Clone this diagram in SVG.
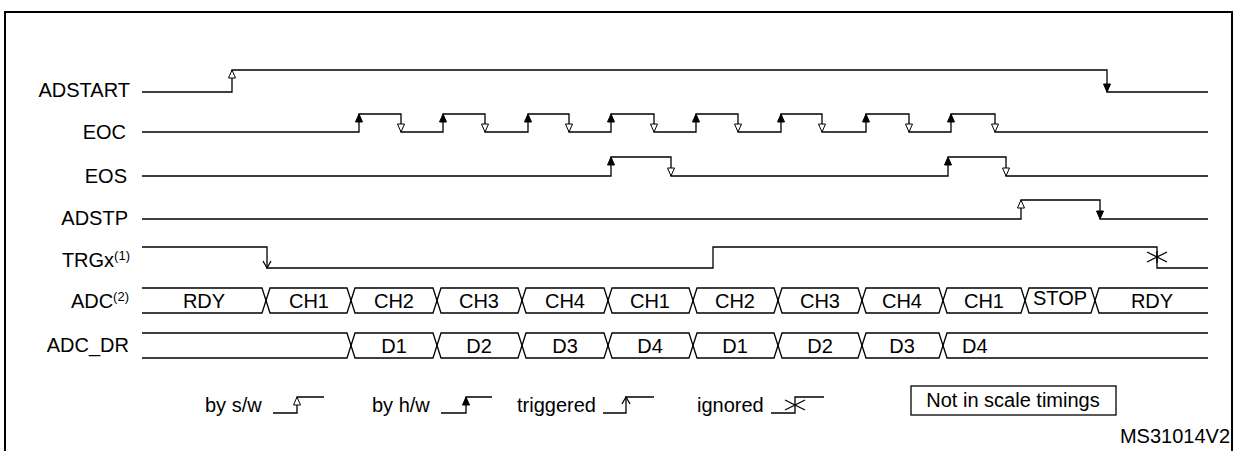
<svg xmlns="http://www.w3.org/2000/svg" width="1237" height="451" viewBox="0 0 1237 451">
<style>
.sig{fill:none;stroke:#000;stroke-width:1.3}
.t{font-family:"Liberation Sans",Arial,sans-serif;font-size:20px;fill:#000}
.l{text-anchor:end}
.c{text-anchor:middle}
.ho{fill:#fff;stroke:#000;stroke-width:1}
.fi{fill:#000;stroke:#000;stroke-width:1}
</style>
<rect width="1237" height="451" fill="#fff"/>
<path d="M5 460 V12 H1232 V460" fill="none" stroke="#000" stroke-width="2"/>
<g id="labels">
<text class="t l" x="130" y="97">ADSTART</text>
<text class="t l" x="126" y="139">EOC</text>
<text class="t l" x="127" y="183">EOS</text>
<text class="t l" x="128" y="225">ADSTP</text>
<text class="t l" x="130" y="267">TRGx<tspan font-size="13" dy="-7">(1)</tspan></text>
<text class="t l" x="129" y="308">ADC<tspan font-size="13" dy="-7">(2)</tspan></text>
<text class="t l" x="129" y="352">ADC_DR</text>
</g>
<g id="connectors">
<path class="sig" d="M142 92 H232 V70 H1107 V92 H1208"/>
<path class="sig" d="M142 132 H359 V114 H401 V132 H443 V114 H485 V132 H528 V114 H569 V132 H611 V114 H654 V132 H696 V114 H738 V132 H781 V114 H822 V132 H866 V114 H909 V132 H951 V114 H995 V132 H1208"/>
<path class="sig" d="M142 176 H611 V157 H671 V176 H948 V157 H1006 V176 H1208"/>
<path class="sig" d="M142 219 H1021 V200 H1100 V219 H1208"/>
<path class="sig" d="M142 247 H267 V268 H713 V247 H1157 V268 H1208"/>
<path class="sig" d="M263 261 L267 268 L271 261"/>
<path class="sig" d="M1147 252 L1167 262 M1147 262 L1167 252 M1157 251 V263"/>
<path class="ho" d="M232 70 l-3.5 8 h7 z"/>
<path class="fi" d="M1107 92 l-3.5 -8 h7 z"/>
<path class="fi" d="M359 114 l-3.5 8 h7 z M443 114 l-3.5 8 h7 z M528 114 l-3.5 8 h7 z M611 114 l-3.5 8 h7 z M696 114 l-3.5 8 h7 z M781 114 l-3.5 8 h7 z M866 114 l-3.5 8 h7 z M951 114 l-3.5 8 h7 z"/>
<path class="ho" d="M401 132 l-3.5 -8 h7 z M485 132 l-3.5 -8 h7 z M569 132 l-3.5 -8 h7 z M654 132 l-3.5 -8 h7 z M738 132 l-3.5 -8 h7 z M822 132 l-3.5 -8 h7 z M909 132 l-3.5 -8 h7 z M995 132 l-3.5 -8 h7 z"/>
<path class="fi" d="M611 157 l-3.5 8 h7 z M948 157 l-3.5 8 h7 z"/>
<path class="ho" d="M671 176 l-3.5 -8 h7 z M1006 176 l-3.5 -8 h7 z"/>
<path class="ho" d="M1021 200 l-3.5 8 h7 z"/>
<path class="fi" d="M1100 219 l-3.5 -8 h7 z"/>
<path class="sig" d="M142 288 H262 L266 300.5 L262 313 H142"/>
<path class="sig" d="M266 300.5 L270 288 H347 L351 300.5 L347 313 H270 Z"/>
<path class="sig" d="M351 300.5 L355 288 H433 L437 300.5 L433 313 H355 Z"/>
<path class="sig" d="M437 300.5 L441 288 H518 L522 300.5 L518 313 H441 Z"/>
<path class="sig" d="M522 300.5 L526 288 H604 L608 300.5 L604 313 H526 Z"/>
<path class="sig" d="M608 300.5 L612 288 H689 L693 300.5 L689 313 H612 Z"/>
<path class="sig" d="M693 300.5 L697 288 H774 L778 300.5 L774 313 H697 Z"/>
<path class="sig" d="M778 300.5 L782 288 H858 L862 300.5 L858 313 H782 Z"/>
<path class="sig" d="M862 300.5 L866 288 H939 L943 300.5 L939 313 H866 Z"/>
<path class="sig" d="M943 300.5 L947 288 H1021 L1025 300.5 L1021 313 H947 Z"/>
<path class="sig" d="M1025 300.5 L1029 288 H1091 L1095 300.5 L1091 313 H1029 Z"/>
<path class="sig" d="M1208 288 H1099 L1095 300.5 L1099 313 H1208"/>
<path class="sig" d="M142 333 H347 L351 345.5 L347 358 H142"/>
<path class="sig" d="M351 345.5 L355 333 H433 L437 345.5 L433 358 H355 Z"/>
<path class="sig" d="M437 345.5 L441 333 H518 L522 345.5 L518 358 H441 Z"/>
<path class="sig" d="M522 345.5 L526 333 H604 L608 345.5 L604 358 H526 Z"/>
<path class="sig" d="M608 345.5 L612 333 H689 L693 345.5 L689 358 H612 Z"/>
<path class="sig" d="M693 345.5 L697 333 H774 L778 345.5 L774 358 H697 Z"/>
<path class="sig" d="M778 345.5 L782 333 H858 L862 345.5 L858 358 H782 Z"/>
<path class="sig" d="M862 345.5 L866 333 H939 L943 345.5 L939 358 H866 Z"/>
<path class="sig" d="M1208 333 H947 L943 345.5 L947 358 H1208"/>
</g>
<g id="bus-labels">
<text class="t c" x="204" y="308">RDY</text>
<text class="t c" x="309" y="308">CH1</text>
<text class="t c" x="394" y="308">CH2</text>
<text class="t c" x="479" y="308">CH3</text>
<text class="t c" x="565" y="308">CH4</text>
<text class="t c" x="650" y="308">CH1</text>
<text class="t c" x="735" y="308">CH2</text>
<text class="t c" x="820" y="308">CH3</text>
<text class="t c" x="902" y="308">CH4</text>
<text class="t c" x="984" y="308">CH1</text>
<text class="t c" x="1060" y="305" font-size="19">STOP</text>
<text class="t c" x="1152" y="308">RDY</text>
<text class="t c" x="394" y="353">D1</text>
<text class="t c" x="479" y="353">D2</text>
<text class="t c" x="565" y="353">D3</text>
<text class="t c" x="650" y="353">D4</text>
<text class="t c" x="735" y="353">D1</text>
<text class="t c" x="820" y="353">D2</text>
<text class="t c" x="902" y="353">D3</text>
<text class="t" x="962" y="353">D4</text>
</g>
<g id="legend">
<text class="t" x="205" y="412">by s/w</text>
<path class="sig" d="M273 413 H297 V397 H324"/>
<path class="ho" d="M297 397 l-3.5 8 h7 z"/>
<text class="t" x="372" y="412">by h/w</text>
<path class="sig" d="M441 413 H466 V397 H492"/>
<path class="fi" d="M466 397 l-3.5 8 h7 z"/>
<text class="t" x="517" y="412">triggered</text>
<path class="sig" d="M603 413 H626 V397 H654"/>
<path class="sig" d="M622 404 L626 397 L630 404"/>
<text class="t" x="697" y="412">ignored</text>
<path class="sig" d="M771 413 H795 V397 H824"/>
<path class="sig" d="M785 400 L805 410 M785 410 L805 400"/>
<rect x="911" y="386" width="205" height="29" fill="none" stroke="#000" stroke-width="1.3"/>
<text class="t c" x="1013" y="407">Not in scale timings</text>
<text class="t" x="1230" y="443" text-anchor="end" font-size="13">MS31014V2</text>
</g>
</svg>
